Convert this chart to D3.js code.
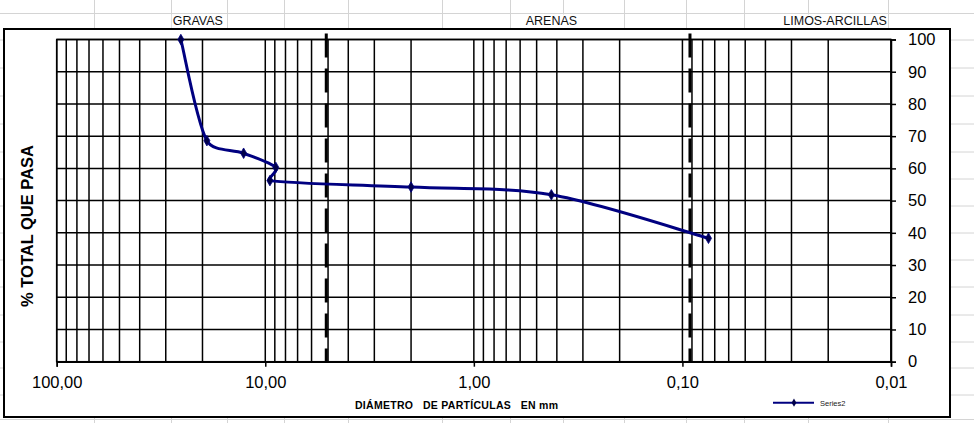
<!DOCTYPE html>
<html><head><meta charset="utf-8">
<script src="https://cdn.jsdelivr.net/npm/d3@7"></script>
<style>body{margin:0;background:#fff}svg{display:block;font-family:"Liberation Sans",Arial,sans-serif}</style>
</head><body><svg id="c" width="974" height="423"></svg>
<script>
// ---- data ----
const diameters = [25.4, 19.05, 12.7, 8.9, 9.5, 2.0, 0.425, 0.075];
const percentPassing = [100, 68.6, 64.7, 60.3, 56.2, 54.2, 51.8, 38.3];
const seriesName = "Series2";
const xTickValues = [100, 10, 1, 0.1, 0.01];
const xTickLabels = ["100,00", "10,00", "1,00", "0,10", "0,01"];
const yTickValues = [0, 10, 20, 30, 40, 50, 60, 70, 80, 90, 100];
const limitDiameters = [5.1, 0.092];
const zoneLabels = ["GRAVAS", "ARENAS", "LIMOS-ARCILLAS"];
const xTitle = "DIÁMETRO   DE PARTÍCULAS   EN mm";
const yTitle = "% TOTAL QUE PASA";

// ---- spreadsheet-style smoothed curve for d3.line ----
function ExcelSmooth(context) { this._context = context; }
ExcelSmooth.prototype = {
  areaStart() {}, areaEnd() {},
  lineStart() { this._pts = []; },
  point(x, y) { this._pts.push([+x, +y]); },
  lineEnd() {
    const p = this._pts, n = p.length, c = this._context;
    if (!n) return;
    c.moveTo(p[0][0], p[0][1]);
    const clip = (v, L) => { const m = Math.hypot(v[0], v[1]); return m > L && m > 0 ? [v[0] * L / m, v[1] * L / m] : v; };
    for (let i = 0; i < n - 1; i++) {
      const p0 = p[Math.max(i - 1, 0)], p1 = p[i], p2 = p[i + 1], p3 = p[Math.min(i + 2, n - 1)];
      const L = Math.hypot(p2[0] - p1[0], p2[1] - p1[1]) / 3;
      const t1 = clip([(p2[0] - p0[0]) / 6, (p2[1] - p0[1]) / 6], L);
      const t2 = clip([(p3[0] - p1[0]) / 6, (p3[1] - p1[1]) / 6], L);
      c.bezierCurveTo(p1[0] + t1[0], p1[1] + t1[1], p2[0] - t2[0], p2[1] - t2[1], p2[0], p2[1]);
    }
  }
};
const curveExcel = ctx => new ExcelSmooth(ctx);

// ---- layout ----
const W = 974, H = 423;
const svg = d3.select("#c");
svg.append("rect").attr("width", W).attr("height", H).attr("fill", "#fff");

// spreadsheet gridlines behind the chart
const sheetRows = [13.5, 40, 68, 96, 124, 152, 179, 206, 233, 260, 287, 315, 342, 368, 395, 419.5];
const sheetCols = [94, 171, 227, 284, 348, 442, 510, 563, 624, 686, 744, 808, 888];
const sheet = svg.append("g").attr("stroke", "#d4d4d4").attr("stroke-width", 1);
sheetRows.forEach(y => sheet.append("line").attr("x1", 0).attr("x2", W).attr("y1", y).attr("y2", y));
sheetCols.forEach(x => sheet.append("line").attr("x1", x + 0.5).attr("x2", x + 0.5).attr("y1", 0).attr("y2", H));

// zone header labels in the sheet
const zoneX = [172.7, 525.7, 783.3];
zoneLabels.forEach((t, i) => {
  const txt = svg.append("text").attr("x", zoneX[i]).attr("y", 24.5)
    .attr("font-size", 12.5).attr("fill", "#111").text(t);
  const bb = txt.node().getBBox();
  svg.insert("rect", () => txt.node()).attr("x", bb.x - 1).attr("y", 14.5)
    .attr("width", bb.width + 2).attr("height", 14).attr("fill", "#fff");
});

// chart frame
svg.append("rect").attr("x", 4).attr("y", 29).attr("width", 946).attr("height", 388)
  .attr("fill", "#fff").attr("stroke", "#000").attr("stroke-width", 2);

// scales
const x = d3.scaleLog().domain([100, 0.01]).range([56.7, 891]);
const y = d3.scaleLinear().domain([0, 100]).range([361.7, 39.5]);

const g = svg.append("g");

// grid: vertical log lines
const vGrid = [];
for (let e = -2; e <= 1; e++) for (let m = 1; m <= 9; m++) vGrid.push(m * Math.pow(10, e));
vGrid.push(100);
g.append("g").selectAll("line").data(vGrid).join("line")
  .attr("x1", d => x(d)).attr("x2", d => x(d))
  .attr("y1", y(0)).attr("y2", y(100))
  .attr("stroke", "#000").attr("stroke-width", 1.5);
// grid: horizontal
g.append("g").selectAll("line").data(yTickValues).join("line")
  .attr("x1", x(100)).attr("x2", x(0.01))
  .attr("y1", d => y(d)).attr("y2", d => y(d))
  .attr("stroke", "#000").attr("stroke-width", 1.5);

// limit dashed lines
g.append("g").selectAll("line").data(limitDiameters).join("line")
  .attr("x1", d => x(d)).attr("x2", d => x(d))
  .attr("y1", y(100) - 6).attr("y2", y(0) + 1)
  .attr("stroke", "#000").attr("stroke-width", 3)
  .attr("stroke-dasharray", "24,11");

// axes
const xAxis = d3.axisBottom(x).tickValues(xTickValues)
  .tickFormat((d, i) => xTickLabels[i]).tickSize(5).tickPadding(10);
const ax = g.append("g").attr("transform", `translate(0,${y(0)})`).call(xAxis);
ax.select(".domain").attr("stroke", "#000").attr("stroke-width", 1.5);
ax.selectAll(".tick line").attr("stroke", "#000").attr("stroke-width", 1.5);
ax.selectAll("text").attr("font-size", 16.5).attr("fill", "#000")
  .attr("font-family", '"Liberation Sans",Arial,sans-serif');

const yAxis = d3.axisRight(y).tickValues(yTickValues).tickSize(5).tickPadding(12);
const ay = g.append("g").attr("transform", `translate(${x(0.01)},0)`).call(yAxis);
ay.select(".domain").attr("stroke", "#000").attr("stroke-width", 1.5);
ay.selectAll(".tick line").attr("stroke", "#000").attr("stroke-width", 1.5);
ay.selectAll("text").attr("font-size", 16.5).attr("fill", "#000")
  .attr("font-family", '"Liberation Sans",Arial,sans-serif');

// plot border
g.append("rect").attr("x", x(100)).attr("y", y(100))
  .attr("width", x(0.01) - x(100)).attr("height", y(0) - y(100))
  .attr("fill", "none").attr("stroke", "#000").attr("stroke-width", 1.5);

// series
const pts = diameters.map((d, i) => [d, percentPassing[i]]);
const line = d3.line().x(d => x(d[0])).y(d => y(d[1])).curve(curveExcel);
g.append("path").datum(pts).attr("d", line)
  .attr("fill", "none").attr("stroke", "#000080").attr("stroke-width", 3)
  .attr("stroke-linejoin", "round");
const diamond = d3.symbol().type(d3.symbolDiamond).size(32);
g.append("g").selectAll("path").data(pts).join("path")
  .attr("d", diamond)
  .attr("transform", d => `translate(${x(d[0])},${y(d[1])})`)
  .attr("fill", "#00004a").attr("stroke", "#000080").attr("stroke-width", 0.8);

// titles
svg.append("text").attr("transform", "translate(33,226) rotate(-90)")
  .attr("text-anchor", "middle").attr("font-weight", "bold").attr("font-size", 16.5)
  .attr("fill", "#000").text(yTitle);
svg.append("text").attr("x", 355).attr("y", 408.5)
  .attr("font-weight", "bold").attr("font-size", 10.5).attr("fill", "#000")
  .attr("xml:space", "preserve").style("white-space", "pre")
  .attr("textLength", 203).attr("lengthAdjust", "spacing").text(xTitle);

// legend
const lg = svg.append("g");
lg.append("line").attr("x1", 773).attr("x2", 814).attr("y1", 402.7).attr("y2", 402.7)
  .attr("stroke", "#000080").attr("stroke-width", 2);
lg.append("path").attr("d", d3.symbol().type(d3.symbolDiamond).size(20))
  .attr("transform", "translate(794,402.7)").attr("fill", "#00004a");
lg.append("text").attr("x", 820).attr("y", 405.5).attr("font-size", 7.5)
  .attr("fill", "#222").text(seriesName);
</script></body></html>
